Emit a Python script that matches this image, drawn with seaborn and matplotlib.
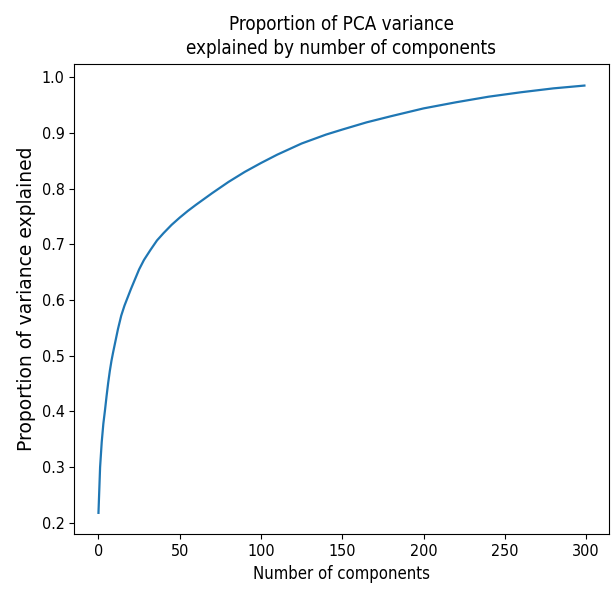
import pandas as pd
import matplotlib
matplotlib.use("Agg")
import matplotlib.pyplot as plt
import seaborn as sns

# Values (cumulative explained variance)
n_components = [0, 1, 2, 3, 4, 5, 6, 7, 8, 9, 10, 12, 14, 16, 18, 20, 22, 25,
                28, 32, 36, 40, 45, 50, 55, 60, 70, 80, 90, 100, 110, 125, 140,
                150, 165, 180, 200, 220, 240, 260, 280, 299]
cum_variance = [0.218, 0.300, 0.345, 0.378, 0.402, 0.428, 0.452, 0.473, 0.491,
                0.506, 0.520, 0.548, 0.572, 0.590, 0.605, 0.620, 0.634, 0.655,
                0.672, 0.690, 0.707, 0.720, 0.735, 0.748, 0.760, 0.771, 0.792,
                0.812, 0.830, 0.846, 0.861, 0.881, 0.897, 0.906, 0.919, 0.930,
                0.944, 0.955, 0.965, 0.973, 0.980, 0.985]

df = pd.DataFrame({"Components": n_components, "Variance": cum_variance})

plt.rcParams["font.family"] = ["DejaVu Sans"]
plt.rcParams["font.stretch"] = "condensed"

fig = plt.figure(figsize=(6.13, 5.89), dpi=100)
ax = fig.add_axes([0.121, 0.093, 0.872, 0.798])

sns.lineplot(data=df, x="Components", y="Variance", ax=ax, color="#1f77b4", linewidth=1.6)

ax.set_yticks([0.2, 0.3, 0.4, 0.5, 0.6, 0.7, 0.8, 0.9, 1.0])
ax.set_xticks([0, 50, 100, 150, 200, 250, 300])
ax.tick_params(labelsize=11.5)
ax.set_xlabel("Number of components", fontsize=12)
ax.set_ylabel("Proportion of variance explained", fontsize=13.5, fontstretch="normal", labelpad=4)
ax.set_title("Proportion of PCA variance\nexplained by number of components",
             fontsize=13.5, linespacing=1.35, pad=7)

fig.savefig("out.png", dpi=100)
